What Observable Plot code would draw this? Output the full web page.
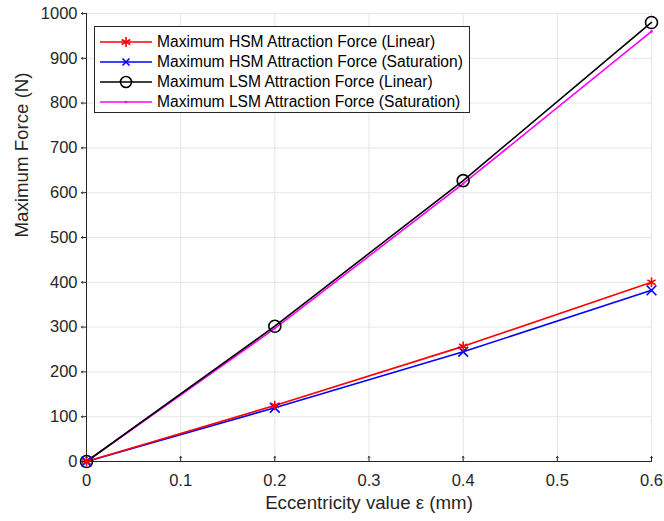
<!DOCTYPE html>
<html><head><meta charset="utf-8">
<script src="https://cdn.jsdelivr.net/npm/d3@7"></script>
<script src="https://cdn.jsdelivr.net/npm/@observablehq/plot@0.6"></script>
<style>
body{margin:0;background:#fff;font-family:"Liberation Sans",Arial,sans-serif;}
#wrap{position:relative;width:664px;height:521px;}
#legend{position:absolute;left:94px;top:26px;width:376px;height:87px;border:1px solid #262626;background:#fff;box-sizing:border-box;font-size:15.6px;color:#000;}
#legend .row{position:absolute;left:0;height:20px;display:flex;align-items:center;white-space:nowrap;}
#legend svg{margin-left:5px;margin-right:5px;}
</style></head>
<body><div id="wrap"><div id="legend"></div></div>
<script>
const ecc = [0, 0.2, 0.4, 0.6];
const hsmLinear = [0, 125, 257, 400];
const hsmSat = [0, 120, 245, 382];
const lsmLinear = [0, 302, 627, 980];
const lsmSat = [0, 297, 620, 960];
const seriesNames = [
  "Maximum HSM Attraction Force (Linear)",
  "Maximum HSM Attraction Force (Saturation)",
  "Maximum LSM Attraction Force (Linear)",
  "Maximum LSM Attraction Force (Saturation)"
];
const seriesColors = ["#ff0000", "#0000ff", "#000000", "#ff00ff"];
const seriesSymbols = ["asterisk", "times", "circle", "dot"];
const xTicks = [0, 0.1, 0.2, 0.3, 0.4, 0.5, 0.6];
const yTicks = [0, 100, 200, 300, 400, 500, 600, 700, 800, 900, 1000];

const allSeries = [hsmLinear, hsmSat, lsmLinear, lsmSat];
const rows = [];
allSeries.forEach((vals, s) => vals.forEach((v, i) => rows.push({s, x: ecc[i], y: v})));

const axisColor = "#262626";
const marks = [
  Plot.gridX(xTicks, {stroke: "#e6e6e6", strokeOpacity: 1, strokeWidth: 1}),
  Plot.gridY(yTicks, {stroke: "#e6e6e6", strokeOpacity: 1, strokeWidth: 1}),
  Plot.text(xTicks, {x: d => d, y: 0, text: d => String(d), dy: 19, fontSize: 16.5, fill: axisColor, lineAnchor: "middle"}),
  Plot.text(yTicks, {x: 0, y: d => d, text: d => String(d), dx: -9, textAnchor: "end", fontSize: 16.5, fill: axisColor}),
  Plot.vector(xTicks, {x: d => d, y: 0, length: 5, rotate: 0, anchor: "start", stroke: axisColor, strokeWidth: 1}),
  Plot.vector(yTicks, {x: 0, y: d => d, length: 5, rotate: -90, anchor: "start", stroke: axisColor, strokeWidth: 1}),
  Plot.ruleX([0], {stroke: axisColor, strokeWidth: 1}),
  Plot.ruleY([0], {stroke: axisColor, strokeWidth: 1})
];
[3, 2, 1, 0].forEach(s => {
  const data = rows.filter(r => r.s === s);
  marks.push(Plot.line(data, {x: "x", y: "y", stroke: seriesColors[s], strokeWidth: 1.6}));
});
[3, 2, 1, 0].forEach(s => {
  const data = rows.filter(r => r.s === s);
  const sym = seriesSymbols[s];
  if (sym === "dot") {
    marks.push(Plot.dot(data, {x: "x", y: "y", r: 1.3, fill: seriesColors[s], stroke: "none"}));
  } else {
    marks.push(Plot.dot(data, {x: "x", y: "y", symbol: () => sym, r: sym === "circle" ? 6 : 4.5, stroke: seriesColors[s], strokeWidth: 1.6, fill: "none"}));
  }
});
marks.push(Plot.text(["Eccentricity value ε (mm)"], {frameAnchor: "bottom", dy: 42, lineAnchor: "middle", fontSize: 18.7, fill: axisColor, text: d => d}));
marks.push(Plot.text(["Maximum Force (N)"], {frameAnchor: "left", dx: -64, rotate: -90, fontSize: 18.7, fill: axisColor, text: d => d}));

const chart = Plot.plot({
  width: 664, height: 521,
  marginLeft: 86, marginRight: 13, marginTop: 13, marginBottom: 60,
  style: {fontFamily: '"Liberation Sans", Arial, sans-serif', background: "#fff", overflow: "visible"},
  x: {domain: [0, 0.6], axis: null},
  y: {domain: [0, 1000], axis: null},
  marks
});
document.getElementById("wrap").prepend(chart);

const legend = document.getElementById("legend");
seriesNames.forEach((name, s) => {
  const row = document.createElement("div");
  row.className = "row";
  row.style.top = (4.5 + s * 20.2) + "px";
  const sym = seriesSymbols[s];
  let m = "";
  const c = seriesColors[s];
  if (sym === "asterisk") {
    m = `<g stroke="${c}" stroke-width="1.6"><line x1="26" y1="5" x2="26" y2="15"/><line x1="21.7" y1="7.5" x2="30.3" y2="12.5"/><line x1="21.7" y1="12.5" x2="30.3" y2="7.5"/></g>`;
  } else if (sym === "times") {
    m = `<g stroke="${c}" stroke-width="1.6"><line x1="22.5" y1="6.5" x2="29.5" y2="13.5"/><line x1="22.5" y1="13.5" x2="29.5" y2="6.5"/></g>`;
  } else if (sym === "circle") {
    m = `<circle cx="26" cy="10" r="5.5" fill="none" stroke="${c}" stroke-width="1.6"/>`;
  } else {
    m = `<circle cx="26" cy="10" r="1.3" fill="${c}"/>`;
  }
  row.innerHTML = `<svg width="52" height="20"><line x1="0" y1="10" x2="52" y2="10" stroke="${c}" stroke-width="1.6"/>${m}</svg><span>${name}</span>`;
  legend.appendChild(row);
});
</script></body></html>
